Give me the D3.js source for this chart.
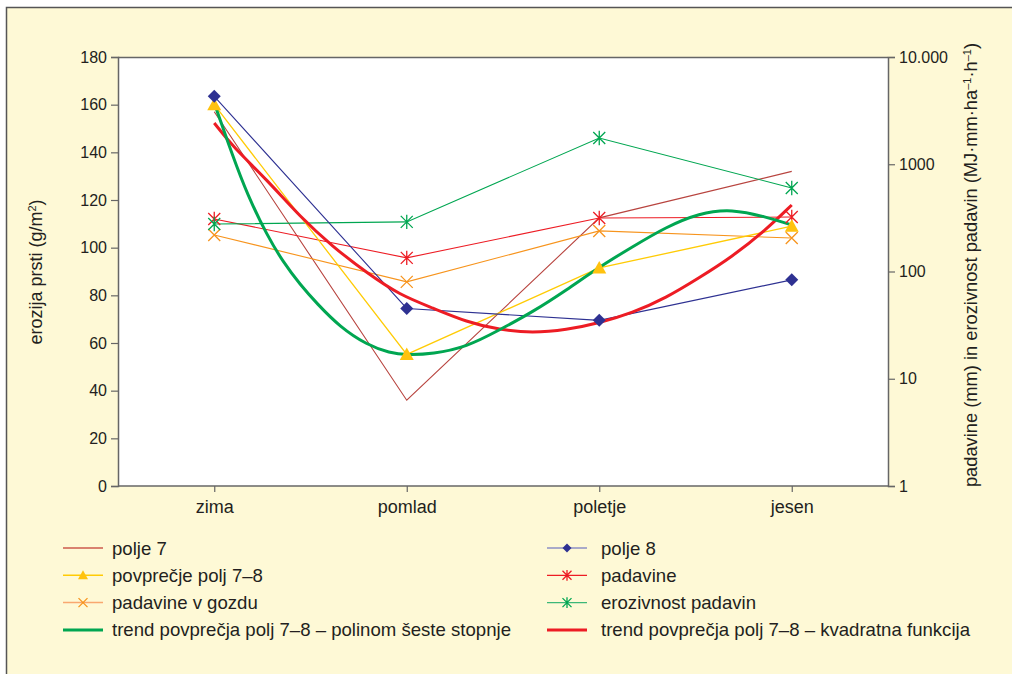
<!DOCTYPE html>
<html><head><meta charset="utf-8">
<script src="https://cdn.jsdelivr.net/npm/d3@7"></script>
<style>
html,body{margin:0;padding:0;background:#fff;}
svg{display:block;font-family:"Liberation Sans",Arial,sans-serif;}
</style></head>
<body><svg id="c" width="1012" height="674"></svg>
<script>
const seasons = ["zima","pomlad","poletje","jesen"];
const polje7 = [157, 36, 112.5, 132];
const polje8 = [163.5, 74.5, 69.5, 86.5];
const povprecje = [160, 55.2, 91.5, 109];
const padavine = [309, 134, 315, 322];
const padavineGozd = [219, 80, 239, 205];
const erozivnost = [277, 290, 1757, 601];
const trendPolyX = [0,0.098,0.171,0.275,0.358,0.446,0.534,0.653,0.793,0.912,1,1.135,1.311,1.482,1.653,1.829,2,2.171,2.347,2.518,2.689,2.865,3];
const trendPolyY = [160.7,138,122.5,105,94,84.5,76.5,66.7,59.2,55.8,55,55.4,58.3,65.5,73,82.2,91.9,100.3,108.7,114.5,116.3,112.9,109.5];
const trendQuadX = [0,0.098,0.275,0.446,0.617,0.793,0.964,1.135,1.311,1.482,1.653,1.829,2,2.171,2.347,2.518,2.689,2.865,3];
const trendQuadY = [152.3,142.2,128.4,112.9,100.3,89.4,80.1,74.7,68.8,65.5,64.2,65.5,68.4,72.6,78.9,87.3,96.1,107.4,117.9];
const leftTicks = [0,20,40,60,80,100,120,140,160,180];
const rightTicks = [1,10,100,1000,10000];
const rightTickLabels = ["1","10","100","1000","10.000"];

const svg = d3.select("#c");
const bg = "#fef9d6";
const txt = "#231f20";
svg.append("rect").attr("x",6.5).attr("y",7.5).attr("width",1010).attr("height",700)
  .attr("fill",bg).attr("stroke","#555").attr("stroke-width",1.5);

const L=118,R=888,T=57,B=486;
svg.append("rect").attr("x",L).attr("y",T).attr("width",R-L).attr("height",B-T).attr("fill","#fff");

const x = d3.scalePoint().domain(seasons).range([L,R]).padding(0.5);
const xi = d3.scaleLinear().domain([-0.5,3.5]).range([L,R]);
const y = d3.scaleLinear().domain([0,180]).range([B,T]);
const y2 = d3.scaleLog().domain([1,10000]).range([B,T]);

const axisColor="#666";
svg.append("line").attr("x1",L).attr("x2",R).attr("y1",T+0.5).attr("y2",T+0.5).attr("stroke",axisColor).attr("stroke-width",1.5);

const gl = svg.append("g").attr("transform",`translate(${L},0)`)
  .call(d3.axisLeft(y).tickValues(leftTicks).tickSize(7).tickPadding(4));
const gr = svg.append("g").attr("transform",`translate(${R},0)`)
  .call(d3.axisRight(y2).tickValues(rightTicks).tickFormat((d,i)=>rightTickLabels[i]).tickSize(7).tickPadding(4));
const gb = svg.append("g").attr("transform",`translate(0,${B})`)
  .call(d3.axisBottom(x).tickSize(6).tickPadding(8).tickSizeOuter(0));
[gl,gr,gb].forEach(g=>{
  g.selectAll("path.domain").attr("stroke",axisColor).attr("stroke-width",1.5);
  g.selectAll(".tick line").attr("stroke",axisColor).attr("stroke-width",1.2);
  g.selectAll("text").attr("fill",txt).style("font-size","16px").style("font-family","'Liberation Sans',Arial,sans-serif");
});
gb.selectAll("text").style("font-size","18px");
gb.select("path.domain").attr("d",`M${L},0H${R}`);

const t1 = svg.append("text").attr("transform","translate(42,272) rotate(-90)").attr("text-anchor","middle")
  .style("font-size","18px").attr("fill",txt);
t1.append("tspan").text("erozija prsti (g/m");
t1.append("tspan").attr("dy",-6).style("font-size","11px").text("2");
t1.append("tspan").attr("dy",6).text(")");
const t2 = svg.append("text").attr("transform","translate(977,265) rotate(-90)").attr("text-anchor","middle")
  .style("font-size","18.3px").attr("fill",txt);
t2.append("tspan").text("padavine (mm) in erozivnost padavin (MJ·mm·ha");
t2.append("tspan").attr("dy",-6).style("font-size","11px").text("–1");
t2.append("tspan").attr("dy",6).text("·h");
t2.append("tspan").attr("dy",-6).style("font-size","11px").text("–1");
t2.append("tspan").attr("dy",6).text(")");

const plot = svg.append("g");
function drawMarker(g, type, cx, cy, color, s){
  if(type==="diamond"){
    g.append("path").attr("d",`M${cx},${cy-s}L${cx+s},${cy}L${cx},${cy+s}L${cx-s},${cy}Z`).attr("fill",color);
  } else if(type==="triangle"){
    g.append("path").attr("d",`M${cx},${cy-s}L${cx+s},${cy+s*0.8}L${cx-s},${cy+s*0.8}Z`).attr("fill",color);
  } else if(type==="x"){
    g.append("path").attr("d",`M${cx-s},${cy-s}L${cx+s},${cy+s}M${cx-s},${cy+s}L${cx+s},${cy-s}`).attr("stroke",color).attr("stroke-width",1.3).attr("fill","none");
  } else if(type==="star"){
    g.append("path").attr("d",`M${cx-s},${cy-s}L${cx+s},${cy+s}M${cx-s},${cy+s}L${cx+s},${cy-s}M${cx},${cy-s*1.2}L${cx},${cy+s*1.2}`).attr("stroke",color).attr("stroke-width",1.3).attr("fill","none");
  }
}
const series = [
  {name:"polje 7", vals:polje7, sc:y, color:"#b8443f", marker:null, w:1.1},
  {name:"padavine v gozdu", vals:padavineGozd, sc:y2, color:"#f7941d", marker:"x", mcolor:"#f7941d", w:1.1, ms:6},
  {name:"padavine", vals:padavine, sc:y2, color:"#ed1c24", marker:"star", mcolor:"#ed1c24", w:1.1, ms:6},
  {name:"erozivnost padavin", vals:erozivnost, sc:y2, color:"#00a651", marker:"star", mcolor:"#00a651", w:1.1, ms:6},
  {name:"povprečje polj 7–8", vals:povprecje, sc:y, color:"#ffcb05", marker:"triangle", mcolor:"#ffc20e", w:1.3, ms:7},
  {name:"polje 8", vals:polje8, sc:y, color:"#2e3192", marker:"diamond", mcolor:"#2e3192", w:1.1, ms:6.5},
];
series.forEach(s=>{
  plot.append("path").datum(s.vals).attr("fill","none").attr("stroke",s.color).attr("stroke-width",s.w)
    .attr("d",d3.line().x((d,i)=>x(seasons[i])).y(d=>s.sc(d)));
});
const tq = trendQuadX.map((d,i)=>[d,trendQuadY[i]]);
const tp = trendPolyX.map((d,i)=>[d,trendPolyY[i]]);
plot.append("path").datum(tq).attr("fill","none").attr("stroke","#ed1c24").attr("stroke-width",3)
  .attr("d",d3.line().curve(d3.curveBasis).x(d=>xi(d[0])).y(d=>y(d[1])));
plot.append("path").datum(tp).attr("fill","none").attr("stroke","#00a651").attr("stroke-width",3)
  .attr("d",d3.line().curve(d3.curveBasis).x(d=>xi(d[0])).y(d=>y(d[1])));
series.forEach(s=>{
  if(!s.marker) return;
  s.vals.forEach((v,i)=>drawMarker(plot,s.marker,x(seasons[i]),s.sc(v),s.mcolor,s.ms));
});

const legend = [
  {name:"polje 7", color:"#d9826f", marker:null, w:2, col:0, row:0},
  {name:"povprečje polj 7–8", color:"#ffcb05", marker:"triangle", mcolor:"#ffc20e", w:1.5, col:0, row:1},
  {name:"padavine v gozdu", color:"#f9a870", marker:"x", mcolor:"#f7941d", w:1.5, col:0, row:2},
  {name:"trend povprečja polj 7–8 – polinom šeste stopnje", color:"#00a651", marker:null, w:3, col:0, row:3},
  {name:"polje 8", color:"#8c8fc4", marker:"diamond", mcolor:"#2e3192", w:1.5, col:1, row:0},
  {name:"padavine", color:"#ed1c24", marker:"star", mcolor:"#ed1c24", w:1.2, col:1, row:1},
  {name:"erozivnost padavin", color:"#3cb878", marker:"star", mcolor:"#00a651", w:1.2, col:1, row:2},
  {name:"trend povprečja polj 7–8 – kvadratna funkcija", color:"#ed1c24", marker:null, w:3, col:1, row:3},
];
const lg = svg.append("g");
legend.forEach(d=>{
  const lx = d.col===0?63:547, ly = 548 + d.row*27.3;
  lg.append("line").attr("x1",lx).attr("x2",lx+40).attr("y1",ly).attr("y2",ly).attr("stroke",d.color).attr("stroke-width",d.w);
  if(d.marker) drawMarker(lg,d.marker,lx+20,ly,d.mcolor,d.marker==="star"?4.5:(d.marker==="triangle"?5:4.5));
  lg.append("text").attr("x",d.col===0?112:601).attr("y",ly+6.5).style("font-size","18.6px").attr("fill",txt).text(d.name);
});
</script></body></html>
